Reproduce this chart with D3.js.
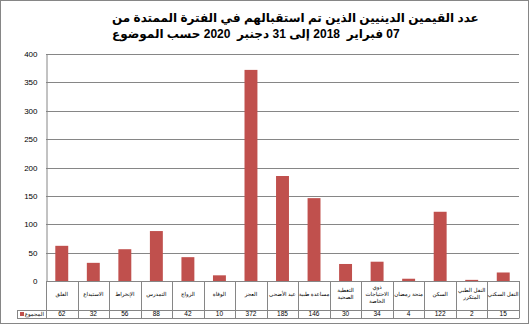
<!DOCTYPE html>
<html><head><meta charset="utf-8">
<script src="https://cdn.jsdelivr.net/npm/d3@7"></script>
<style>body{margin:0;background:#fff}svg{display:block}</style>
</head><body>
<script>
const categories = ["القلق","الاستيداع","الإنخراط","التمدرس","الزواج","الوفاة","العجز","عيد الأضحى","مساعدة طبية","التغطية الصحية","ذوي الاحتياجات الخاصة","منحة رمضان","السكن","النقل الطبي المتكرر","النقل السكني"];
const labelLines = [["القلق"],["الاستيداع"],["الإنخراط"],["التمدرس"],["الزواج"],["الوفاة"],["العجز"],["عيد الأضحى"],["مساعدة طبية"],["التغطية","الصحية"],["ذوي","الاحتياجات","الخاصة"],["منحة رمضان"],["السكن"],["النقل الطبي","المتكرر"],["النقل السكني"]];
const values = [62,32,56,88,42,10,372,185,146,30,34,4,122,2,15];
const yTicks = [0,50,100,150,200,250,300,350,400];
const seriesName = "المجموع";
const titleLines = ["عدد القيمين الدينيين الذين تم استقبالهم في الفترة الممتدة من","07 فبراير  2018 إلى 31 دجنبر  2020 حسب الموضوع"];

const W=530,H=327;
const svg=d3.select("body").append("svg").attr("width",W).attr("height",H);
const grey="#868686", barColor="#c0504d";
const font="Arial, 'Liberation Sans', 'DejaVu Sans', sans-serif";

svg.append("rect").attr("x",0.5).attr("y",0.5).attr("width",528).attr("height",323)
  .attr("fill","#fff").attr("stroke",grey);

const x0=46,x1=519,yB=281,yT=54;
const x=d3.scaleBand().domain(categories).range([x0,x1]).paddingInner(0.59).paddingOuter(0.295);
const xb=d3.scaleBand().domain(categories).range([x0,x1]);
const y=d3.scaleLinear().domain([0,400]).range([yB,yT]);

// gridlines
svg.append("g").selectAll("line").data(yTicks.slice(1)).join("line")
  .attr("x1",x0).attr("x2",x1).attr("y1",d=>Math.round(y(d))+0.5).attr("y2",d=>Math.round(y(d))+0.5)
  .attr("stroke",grey).attr("stroke-width",1);

// y axis
const ya=svg.append("g").attr("transform",`translate(${x0+0.5},0)`)
  .call(d3.axisLeft(y).tickValues(yTicks).tickSize(0).tickPadding(9));
ya.select(".domain").attr("stroke",grey);
ya.selectAll("text").attr("font-family",font).attr("font-size",8).attr("fill","#000");

// bars
svg.append("g").selectAll("rect").data(values).join("rect")
  .attr("x",(d,i)=>x(categories[i])).attr("width",x.bandwidth())
  .attr("y",d=>y(d)).attr("height",d=>yB-y(d)).attr("fill",barColor);

// data table
const tY0=yB, tY1=310, tY2=318;
const tg=svg.append("g");
tg.append("line").attr("x1",x0).attr("x2",x1).attr("y1",yB+0.5).attr("y2",yB+0.5).attr("stroke",grey);
tg.append("line").attr("x1",17).attr("x2",x1).attr("y1",tY1+0.5).attr("y2",tY1+0.5).attr("stroke",grey);
tg.append("line").attr("x1",17).attr("x2",x1).attr("y1",tY2+0.5).attr("y2",tY2+0.5).attr("stroke",grey);
const bounds=categories.map(c=>xb(c)).concat([x1]);
tg.selectAll("line.v").data(bounds).join("line").attr("class","v")
  .attr("x1",d=>Math.round(d)+0.5).attr("x2",d=>Math.round(d)+0.5).attr("y1",tY0).attr("y2",tY2+0.5).attr("stroke",grey);
tg.append("line").attr("x1",17.5).attr("x2",17.5).attr("y1",tY1).attr("y2",tY2+0.5).attr("stroke",grey);

// category labels
categories.forEach((c,i)=>{
  const cx=xb(c)+xb.bandwidth()/2;
  const lines=labelLines[i];
  const lh=7;
  const start=294.5-(lines.length-1)*lh/2;
  lines.forEach((l,j)=>{
    tg.append("text").attr("x",cx).attr("y",start+j*lh).attr("text-anchor","middle").attr("direction","rtl")
      .attr("dominant-baseline","middle").attr("font-family",font).attr("font-size",5.5).attr("fill","#000").text(l);
  });
  tg.append("text").attr("x",cx).attr("y",314.5).attr("text-anchor","middle")
    .attr("dominant-baseline","middle").attr("font-family",font).attr("font-size",6.5).attr("fill","#000").text(values[i]);
});

// legend cell
tg.append("rect").attr("x",20).attr("y",312).attr("width",4).attr("height",4).attr("fill",barColor);
tg.append("text").attr("x",44).attr("y",314.5).attr("text-anchor","start").attr("direction","rtl").attr("dominant-baseline","middle")
  .attr("font-family",font).attr("font-size",5.5).attr("fill","#000").text(seriesName);

// title (right-to-left paragraph, left edges aligned)
const tt=svg.append("g").attr("font-family",font).attr("font-weight","bold").attr("font-size",12).attr("fill","#000");
tt.append("text").attr("direction","rtl").attr("text-anchor","end").attr("x",112).attr("y",22)
  .style("white-space","pre").text(titleLines[0]);
tt.append("text").attr("direction","rtl").attr("text-anchor","end").attr("x",112).attr("y",37.5)
  .style("white-space","pre").text(titleLines[1]);
</script>
</body></html>
